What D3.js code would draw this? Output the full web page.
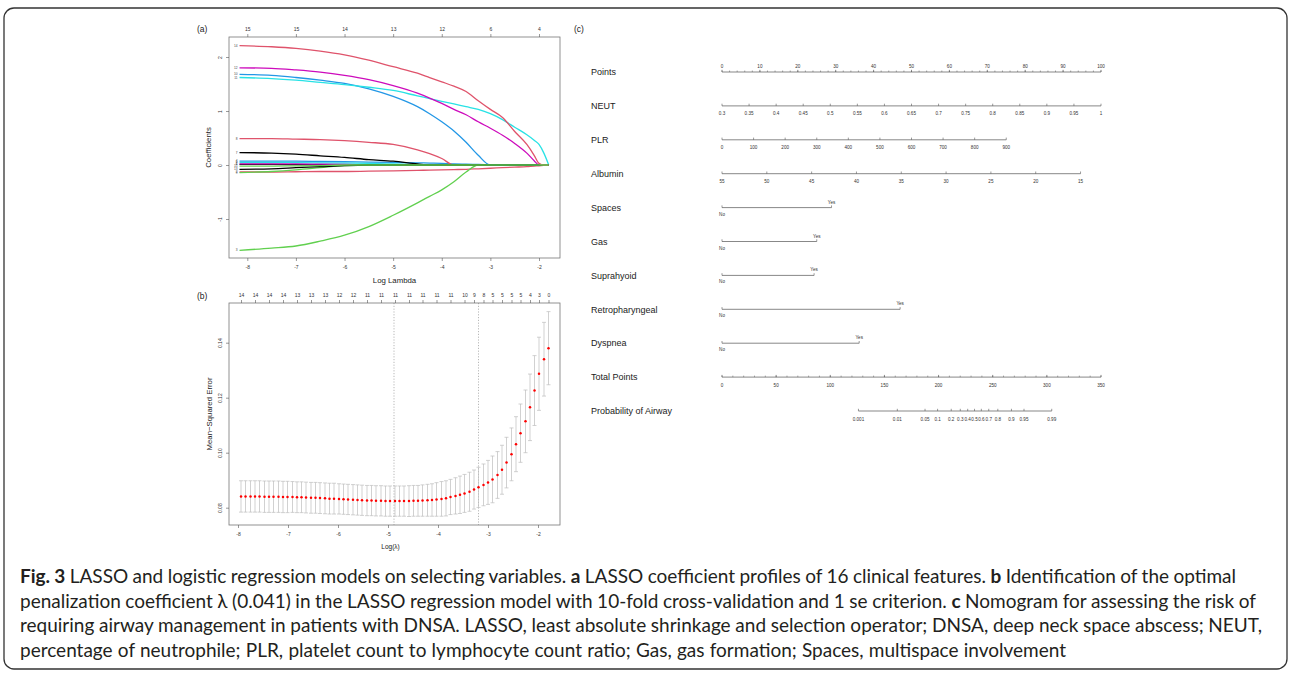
<!DOCTYPE html>
<html>
<head>
<meta charset="utf-8">
<script src="https://cdn.jsdelivr.net/npm/d3@7"></script>
<style>
  body { margin: 0; background: #fff; }
  svg { display: block; }
</style>
</head>
<body>
<svg width="1292" height="674"></svg>
<script>
// ---------- данные панели (a): пути коэффициентов LASSO ----------
const logLambdaA = [-8.16, -7.5, -7, -6.5, -6, -5.5, -5, -4.5, -4.25, -4, -3.75, -3.5, -3.25, -3, -2.75, -2.5, -2.25, -2.1, -2, -1.9, -1.8];
const coef1  = [0.01, 0.01, 0.008, 0.005, 0, 0, 0, 0, 0, 0, 0, 0, 0, 0, 0, 0, 0, 0, 0, 0, 0];
const coef2  = [-0.13, -0.13, -0.125, -0.12, -0.12, -0.115, -0.11, -0.1, -0.095, -0.09, -0.085, -0.08, -0.07, -0.06, -0.05, -0.04, -0.03, -0.02, -0.015, -0.008, 0];
const coef3  = [-1.58, -1.54, -1.5, -1.41, -1.3, -1.14, -0.93, -0.7, -0.58, -0.46, -0.31, -0.13, 0, 0, 0, 0, 0, 0, 0, 0, 0];
const coef4  = [0.07, 0.07, 0.07, 0.065, 0.06, 0.055, 0.05, 0.04, 0.035, 0.03, 0.02, 0.015, 0.01, 0.004, 0, 0, 0, 0, 0, 0, 0];
const coef5  = [0.05, 0.05, 0.045, 0.04, 0.035, 0.03, 0.02, 0.01, 0, 0, 0, 0, 0, 0, 0, 0, 0, 0, 0, 0, 0];
const coef6  = [0.02, 0.02, 0.02, 0.015, 0.01, 0.005, 0, 0, 0, 0, 0, 0, 0, 0, 0, 0, 0, 0, 0, 0, 0];
const coef7  = [0.23, 0.22, 0.2, 0.17, 0.14, 0.1, 0.07, 0.02, 0, 0, 0, 0, 0, 0, 0, 0, 0, 0, 0, 0, 0];
const coef8  = [0.49, 0.49, 0.48, 0.47, 0.45, 0.42, 0.38, 0.28, 0.21, 0.12, 0, 0, 0, 0, 0, 0, 0, 0, 0, 0, 0];
const coef9  = [-0.14, -0.12, -0.09, -0.05, -0.01, 0, 0, 0, 0, 0, 0, 0, 0, 0, 0, 0, 0, 0, 0, 0, 0];
const coef10 = [1.68, 1.66, 1.62, 1.57, 1.51, 1.41, 1.27, 1.08, 0.95, 0.8, 0.63, 0.42, 0.18, 0, 0, 0, 0, 0, 0, 0, 0];
const coef11 = [1.62, 1.6, 1.57, 1.53, 1.49, 1.44, 1.38, 1.28, 1.23, 1.18, 1.13, 1.08, 1.03, 0.95, 0.84, 0.7, 0.56, 0.46, 0.38, 0.22, 0];
const coef12 = [1.8, 1.79, 1.76, 1.72, 1.66, 1.58, 1.47, 1.33, 1.24, 1.14, 1.03, 0.93, 0.8, 0.68, 0.55, 0.4, 0.22, 0.08, 0, 0, 0];
const coef13 = [-0.08, -0.07, -0.05, -0.03, -0.01, 0, 0, 0, 0, 0, 0, 0, 0, 0, 0, 0, 0, 0, 0, 0, 0];
const coef14 = [2.21, 2.19, 2.16, 2.11, 2.04, 1.94, 1.82, 1.7, 1.62, 1.54, 1.46, 1.36, 1.19, 1.03, 0.88, 0.62, 0.38, 0.18, 0.03, 0, 0];
const coef15 = [-0.02, -0.02, -0.015, -0.01, 0, 0, 0, 0, 0, 0, 0, 0, 0, 0, 0, 0, 0, 0, 0, 0, 0];
const coefAll = [coef1, coef2, coef3, coef4, coef5, coef6, coef7, coef8, coef9, coef10, coef11, coef12, coef13, coef14, coef15];
const ticksA = [-8, -7, -6, -5, -4, -3, -2];
const dfTopA = ["15", "15", "14", "13", "12", "6", "4"];
const ticksAY = [-1, 0, 1, 2];

// ---------- данные панели (b): кросс-валидация ----------
const logLambdaB = [-7.94, -7.85, -7.75, -7.66, -7.57, -7.47, -7.38, -7.29, -7.19, -7.10,
    -7.01, -6.91, -6.82, -6.73, -6.64, -6.54, -6.45, -6.36, -6.26, -6.17,
    -6.08, -5.98, -5.89, -5.80, -5.70, -5.61, -5.52, -5.42, -5.33, -5.24,
    -5.14, -5.05, -4.96, -4.86, -4.77, -4.68, -4.58, -4.49, -4.40, -4.31,
    -4.21, -4.12, -4.03, -3.93, -3.84, -3.75, -3.65, -3.56, -3.47, -3.37,
    -3.28, -3.19, -3.09, -3.00, -2.91, -2.81, -2.72, -2.63, -2.53, -2.44,
    -2.35, -2.25, -2.16, -2.07, -1.98, -1.88, -1.79];
const cvm = [.0841, .0841, .0841, .0841, .0841, .0840, .0840, .0840, .0840, .0839,
    .0839, .0839, .0838, .0838, .0837, .0836, .0836, .0835, .0834, .0833,
    .0833, .0832, .0831, .0830, .0829, .0828, .0827, .0826, .0826, .0825,
    .0825, .0824, .0824, .0824, .0824, .0824, .0824, .0825, .0825, .0826,
    .0827, .0828, .0830, .0832, .0834, .0839, .0843, .0847, .0852, .0858,
    .0866, .0874, .0883, .0892, .0903, .0919, .0938, .0964, .0994, .1031,
    .1071, .1114, .1165, .1226, .1287, .1340, .1380];
const cvsd = [.0057, .0057, .0057, .0057, .0057, .0057, .0057, .0057, .0057, .0057,
    .0057, .0056, .0056, .0056, .0056, .0056, .0056, .0056, .0056, .0056,
    .0056, .0055, .0055, .0055, .0055, .0055, .0055, .0055, .0055, .0055,
    .0055, .0055, .0055, .0055, .0055, .0055, .0056, .0056, .0056, .0057,
    .0058, .0059, .0061, .0063, .0064, .0064, .0066, .0068, .0069, .0071,
    .0071, .0073, .0076, .0080, .0085, .0085, .0089, .0092, .0096, .0100,
    .0106, .0114, .0121, .0127, .0133, .0134, .0133];
const nzIdx = [0, 3, 6, 9, 12, 15, 18, 21, 24, 27, 30, 33, 36, 39, 42, 45, 48, 50, 52, 54, 56, 58, 60, 62, 64, 66];
const nzLab = ["14", "14", "14", "14", "13", "13", "13", "12", "12", "11", "11", "11", "11", "11", "11", "11", "10", "9", "8", "5", "5", "5", "5", "4", "3", "0"];
const ticksB = [-8, -7, -6, -5, -4, -3, -2];
const ticksBY = [0.08, 0.10, 0.12, 0.14];
const lambdaMinLog = -4.88;
const lambda1seLog = -3.19;

// ---------- данные панели (c): номограмма ----------
const rowNames = ["Points", "NEUT", "PLR", "Albumin", "Spaces", "Gas", "Suprahyoid", "Retropharyngeal", "Dyspnea", "Total Points", "Probability of Airway"];
const pointsTicks = [0, 10, 20, 30, 40, 50, 60, 70, 80, 90, 100];
const neutTicks = [0.3, 0.35, 0.4, 0.45, 0.5, 0.55, 0.6, 0.65, 0.7, 0.75, 0.8, 0.85, 0.9, 0.95, 1];
const plrTicks = [0, 100, 200, 300, 400, 500, 600, 700, 800, 900];
const albTicks = [55, 50, 45, 40, 35, 30, 25, 20, 15];
const contMaxPoints = [100, 75, 94.6];      // NEUT, PLR, Albumin
const binNames = ["Spaces", "Gas", "Suprahyoid", "Retropharyngeal", "Dyspnea"];
const binPoints = [28.9, 25.0, 24.3, 47.0, 36.2];
const totalTicks = [0, 50, 100, 150, 200, 250, 300, 350];
const probTicks = [0.001, 0.01, 0.05, 0.1, 0.2, 0.3, 0.4, 0.5, 0.6, 0.7, 0.8, 0.9, 0.95, 0.99];
const probAt = {tp0: 233.2, k: 15.52};     // total points = tp0 + k * logit(p)

const captionLines = [
    [["Fig. 3", true], [" LASSO and logistic regression models on selecting variables. ", false], ["a", true], [" LASSO coefficient profiles of 16 clinical features. ", false], ["b", true], [" Identification of the optimal", false]],
    [["penalization coefficient \u03bb (0.041) in the LASSO regression model with 10-fold cross-validation and 1 se criterion. ", false], ["c", true], [" Nomogram for assessing the risk of", false]],
    [["requiring airway management in patients with DNSA. LASSO, least absolute shrinkage and selection operator; DNSA, deep neck space abscess; NEUT,", false]],
    [["percentage of neutrophile; PLR, platelet count to lymphocyte count ratio; Gas, gas formation; Spaces, multispace involvement", false]]
];

const FONT = '"Liberation Sans", Arial, sans-serif';
const palette = ["#000000", "#DF536B", "#61D04F", "#2297E6", "#28E2E5", "#CD0BBC"];
const svg = d3.select("svg");

svg.append("rect").attr("width", 1292).attr("height", 674).attr("fill", "#fff");
svg.append("rect")
    .attr("x", 4).attr("y", 8).attr("width", 1283).attr("height", 661).attr("rx", 10)
    .attr("fill", "none").attr("stroke", "#333").attr("stroke-width", 1.3);

// оформление осей в стиле R
function styleAxis(sel, size) {
    sel.select(".domain").remove();
    sel.selectAll("line").attr("stroke", "#555").attr("stroke-width", 0.6);
    sel.selectAll("text").attr("font-family", FONT).attr("font-size", size).attr("fill", "#333");
}

function rotateY(sel, offset) {
    sel.selectAll("text")
        .attr("transform", "rotate(-90)")
        .attr("x", 0).attr("y", -offset).attr("dy", 0)
        .style("text-anchor", "middle");
}

function addText(g, x, y, txt, size, anchor = "start", rot = 0) {
    return g.append("text")
        .attr("transform", `translate(${x},${y}) rotate(${rot})`)
        .attr("font-family", FONT).attr("font-size", size).attr("fill", "#222")
        .attr("text-anchor", anchor)
        .text(txt);
}

// Панель (a)
function drawPanelA() {
    const box = {x0: 229, x1: 560, y0: 37, y1: 258};
    const x = d3.scaleLinear().domain([-8, -2]).range([247.3, 539]);
    const y = d3.scaleLinear().domain([0, 2]).range([165, 57]);
    const g = svg.append("g");

    const line = d3.line()
        .x((d, i) => x(logLambdaA[i]))
        .y(d => y(d))
        .curve(d3.curveMonotoneX);

    coefAll.forEach((vals, k) => {
        g.append("path")
            .attr("d", line(vals))
            .attr("fill", "none")
            .attr("stroke", palette[k % 6])
            .attr("stroke-width", 1.3);
        addText(g, x(logLambdaA[0]) - 2, y(vals[0]) + 1, String(k + 1), 3.2, "end").attr("fill", "#444");
    });

    g.append("rect")
        .attr("x", box.x0).attr("y", box.y0)
        .attr("width", box.x1 - box.x0).attr("height", box.y1 - box.y0)
        .attr("fill", "none").attr("stroke", "#777").attr("stroke-width", 0.8);

    g.append("g").attr("transform", `translate(0,${box.y1})`)
        .call(d3.axisBottom(x).tickValues(ticksA).tickSize(3).tickPadding(4).tickFormat(d => String(d)))
        .call(s => styleAxis(s, 5));

    g.append("g").attr("transform", `translate(0,${box.y0})`)
        .call(d3.axisTop(x).tickValues(ticksA).tickSize(3).tickPadding(3).tickFormat((d, i) => dfTopA[i]))
        .call(s => styleAxis(s, 5));

    g.append("g").attr("transform", `translate(${box.x0},0)`)
        .call(d3.axisLeft(y).tickValues(ticksAY).tickSize(3).tickFormat(d => String(d)))
        .call(s => styleAxis(s, 5))
        .call(s => rotateY(s, 7));

    addText(g, 197, 32, "(a)", 8.5);
    addText(g, (box.x0 + box.x1) / 2, 283, "Log Lambda", 7.8, "middle");
    addText(g, 211, (box.y0 + box.y1) / 2, "Coefficients", 7.8, "middle", -90);
}

// Панель (b)
function drawPanelB() {
    const box = {x0: 229, x1: 560, y0: 303, y1: 525};
    const x = d3.scaleLinear().domain([-8, -2]).range([238, 538]);
    const y = d3.scaleLinear().domain([0.08, 0.14]).range([507.7, 342.7]);
    const g = svg.append("g");
    const cap = 2;

    // пунктирные линии lambda.min и lambda.1se
    [lambdaMinLog, lambda1seLog].forEach(v => {
        g.append("line")
            .attr("x1", x(v)).attr("x2", x(v))
            .attr("y1", box.y0).attr("y2", box.y1)
            .attr("stroke", "#999").attr("stroke-width", 0.7)
            .attr("stroke-dasharray", "1.2,1.6");
    });

    const bars = g.selectAll(".bar").data(logLambdaB).enter().append("g");
    bars.append("line")
        .attr("x1", d => x(d)).attr("x2", d => x(d))
        .attr("y1", (d, i) => y(cvm[i] + cvsd[i])).attr("y2", (d, i) => y(cvm[i] - cvsd[i]));
    bars.append("line")
        .attr("x1", d => x(d) - cap).attr("x2", d => x(d) + cap)
        .attr("y1", (d, i) => y(cvm[i] + cvsd[i])).attr("y2", (d, i) => y(cvm[i] + cvsd[i]));
    bars.append("line")
        .attr("x1", d => x(d) - cap).attr("x2", d => x(d) + cap)
        .attr("y1", (d, i) => y(cvm[i] - cvsd[i])).attr("y2", (d, i) => y(cvm[i] - cvsd[i]));
    bars.selectAll("line").attr("stroke", "#bdbdbd").attr("stroke-width", 0.7);

    g.selectAll(".dot").data(logLambdaB).enter().append("circle")
        .attr("cx", d => x(d))
        .attr("cy", (d, i) => y(cvm[i]))
        .attr("r", 1.25)
        .attr("fill", "#ff0000");

    g.append("rect")
        .attr("x", box.x0).attr("y", box.y0)
        .attr("width", box.x1 - box.x0).attr("height", box.y1 - box.y0)
        .attr("fill", "none").attr("stroke", "#777").attr("stroke-width", 0.8);

    g.append("g").attr("transform", `translate(0,${box.y1})`)
        .call(d3.axisBottom(x).tickValues(ticksB).tickSize(3).tickPadding(4).tickFormat(d => String(d)))
        .call(s => styleAxis(s, 5));

    g.append("g").attr("transform", `translate(0,${box.y0})`)
        .call(d3.axisTop(x).tickValues(nzIdx.map(i => logLambdaB[i])).tickSize(3).tickPadding(3).tickFormat((d, i) => nzLab[i]))
        .call(s => styleAxis(s, 5));

    g.append("g").attr("transform", `translate(${box.x0},0)`)
        .call(d3.axisLeft(y).tickValues(ticksBY).tickSize(3).tickFormat(d3.format(".2f")))
        .call(s => styleAxis(s, 5))
        .call(s => rotateY(s, 7));

    addText(g, 197, 299, "(b)", 8.5);
    addText(g, (box.x0 + box.x1) / 2 - 4, 549, "Log(\u03bb)", 6.5, "middle");
    addText(g, 212, (box.y0 + box.y1) / 2, "Mean\u2212Squared Error", 7.8, "middle", -90);
}

// Одна непрерывная шкала номограммы
function contAxis(g, y, scale, ticks, above, minor) {
    const x0 = scale(ticks[0]), x1 = scale(ticks[ticks.length - 1]);
    g.append("line").attr("x1", x0).attr("x2", x1).attr("y1", y).attr("y2", y)
        .attr("stroke", "#555").attr("stroke-width", 0.7);
    (minor || []).forEach(v => {
        g.append("line").attr("x1", scale(v)).attr("x2", scale(v)).attr("y1", y).attr("y2", y - 1.5)
            .attr("stroke", "#555").attr("stroke-width", 0.5);
    });
    ticks.forEach(v => {
        g.append("line").attr("x1", scale(v)).attr("x2", scale(v)).attr("y1", y).attr("y2", y - 2.2)
            .attr("stroke", "#555").attr("stroke-width", 0.6);
        addText(g, scale(v), above ? y - 4 : y + 9.5, String(v), 4.6, "middle").attr("fill", "#333");
    });
}

// Панель (c): номограмма
function drawNomogram() {
    const g = svg.append("g");
    const rowY = i => 72 + i * 33.9;
    const xPts = d3.scaleLinear().domain([0, 100]).range([722, 1101]);
    const xTot = d3.scaleLinear().domain([0, 350]).range([722, 1101]);

    addText(g, 574, 32, "(c)", 8.5);
    rowNames.forEach((n, i) => addText(g, 591, rowY(i) + 3.2, n, 9));

    contAxis(g, rowY(0), xPts, pointsTicks, true, d3.range(0, 101, 2));

    const neutSc = d3.scaleLinear().domain([neutTicks[0], neutTicks[neutTicks.length - 1]]).range([xPts(0), xPts(contMaxPoints[0])]);
    const plrSc = d3.scaleLinear().domain([plrTicks[0], plrTicks[plrTicks.length - 1]]).range([xPts(0), xPts(contMaxPoints[1])]);
    const albSc = d3.scaleLinear().domain([albTicks[0], albTicks[albTicks.length - 1]]).range([xPts(0), xPts(contMaxPoints[2])]);
    contAxis(g, rowY(1), neutSc, neutTicks, false);
    contAxis(g, rowY(2), plrSc, plrTicks, false);
    contAxis(g, rowY(3), albSc, albTicks, false);

    // бинарные переменные: No слева снизу, Yes справа сверху
    binNames.forEach((n, k) => {
        const y = rowY(rowNames.indexOf(n));
        const x0 = xPts(0), x1 = xPts(binPoints[k]);
        g.append("line").attr("x1", x0).attr("x2", x1).attr("y1", y).attr("y2", y)
            .attr("stroke", "#555").attr("stroke-width", 0.7);
        [x0, x1].forEach(xx => g.append("line").attr("x1", xx).attr("x2", xx).attr("y1", y).attr("y2", y - 2.2)
            .attr("stroke", "#555").attr("stroke-width", 0.6));
        addText(g, x0, y + 8, "No", 4.6, "middle").attr("fill", "#333");
        addText(g, x1, y - 4, "Yes", 4.6, "middle").attr("fill", "#333");
    });

    contAxis(g, rowY(9), xTot, totalTicks, false, d3.range(0, 351, 10));

    const probSc = p => xTot(probAt.tp0 + probAt.k * Math.log(p / (1 - p)));
    contAxis(g, rowY(10), probSc, probTicks, false);
}

// Подпись к рисунку: каждая строка подгоняется по ширине через word-spacing
function drawCaption() {
    const ends = [1236, 1256, 1262, 1066];
    const base = [583, 607.5, 632, 656.5];
    captionLines.forEach((parts, i) => {
        const t = svg.append("text")
            .attr("x", 20).attr("y", base[i])
            .attr("font-family", "Lato, 'Open Sans', sans-serif")
            .attr("font-size", 19)
            .attr("fill", "#231f20");
        parts.forEach(p => {
            t.append("tspan").attr("font-weight", p[1] ? "bold" : "normal").text(p[0]);
        });
        const w = t.node().getComputedTextLength();
        const spaces = parts.map(p => p[0]).join("").split(" ").length - 1;
        t.attr("word-spacing", ((ends[i] - 20) - w) / spaces);
    });
}

drawPanelA();
drawPanelB();
drawNomogram();
drawCaption();
</script>
</body>
</html>
